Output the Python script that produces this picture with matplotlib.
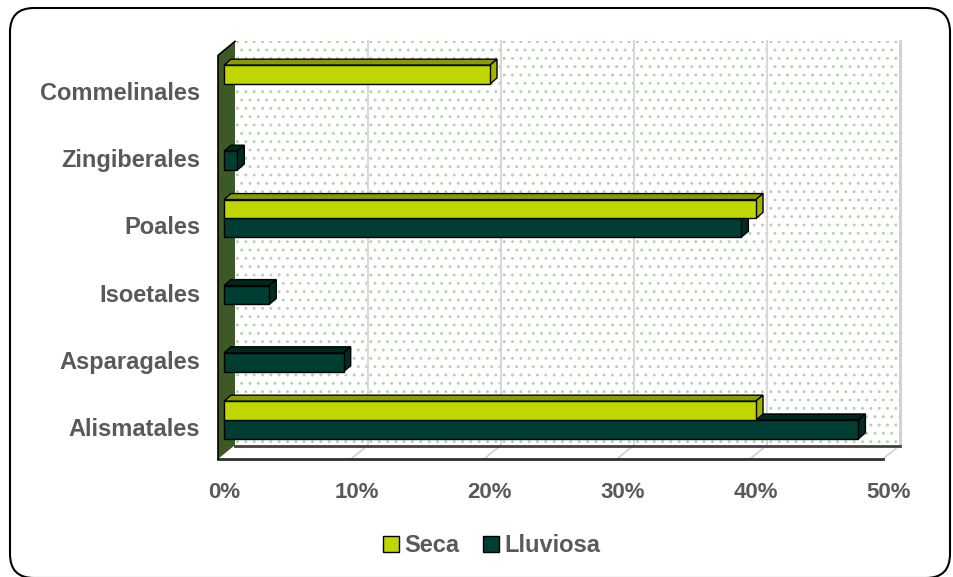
import numpy as np
import matplotlib
matplotlib.use('Agg')
import matplotlib.pyplot as plt
from matplotlib.patches import Polygon, Rectangle, FancyBboxPatch, Patch
from matplotlib.transforms import ScaledTranslation

plt.rcParams['font.family'] = ['Liberation Sans', 'DejaVu Sans']
plt.rcParams['hatch.linewidth'] = 0.9

# datos (porcentaje de especies por orden)
categorias = ['Alismatales', 'Asparagales', 'Isoetales', 'Poales', 'Zingiberales', 'Commelinales']
seca = [40, 0, 0, 40, 0, 20]
lluviosa = [47.7, 9, 3.4, 38.9, 1, 0]
ticks = [0, 10, 20, 30, 40, 50]
tick_labels = ['0%', '10%', '20%', '30%', '40%', '50%']

gris = '#595959'
c_seca = ('#bfd600', '#8c9c00', '#a3b500')        # frente, arriba, lado
c_lluv = ('#003d32', '#00261e', '#002c24')

fig = plt.figure(figsize=(9.54, 5.77), dpi=100)

# marco redondeado
bg = fig.add_axes([0, 0, 1, 1])
bg.set_xlim(0, 954)
bg.set_ylim(577, 0)
bg.axis('off')
bg.add_patch(FancyBboxPatch((10, 8), 940, 570, boxstyle='round,pad=0,rounding_size=24',
                            fc='white', ec='black', lw=1.5))

ymin, ymax = -0.506, 5.476
ax = fig.add_axes([224 / 954, (577 - 454) / 577, 665 / 954, 402 / 577])
ax.set_xlim(0, 50)
ax.set_ylim(ymin, ymax)
ax.patch.set_visible(False)
for s in ax.spines.values():
    s.set_visible(False)

PX = 665 / 50
PY = 402 / (ymax - ymin)


def d(px, py):
    # desplazamiento en pixeles -> unidades de datos
    return px / PX, py / PY


y0, ytop = ymin, 5.5
bx, by = d(11, 9)     # plano de fondo
fx, fy = d(-6, -5)    # plano frontal

# pared del fondo punteada
ax.add_patch(Rectangle((bx, y0 + by), 50, ytop - y0, fc='white', ec='#b4d2ae',
                       hatch='..', lw=0, zorder=0, clip_on=False))
for v in ticks[1:-1]:
    ax.plot([v + bx] * 2, [y0 + by, ytop + by], color='#d9d9d9', lw=1.5, zorder=1, clip_on=False)
ax.plot([50 + bx] * 2, [y0 + by, ytop + by], color='#d0d0d0', lw=2, zorder=1, clip_on=False)

# piso
ax.add_patch(Polygon([(fx, y0 + fy), (bx, y0 + by), (50 + bx, y0 + by), (50 + fx, y0 + fy)],
                     closed=True, fc='white', ec='none', zorder=1, clip_on=False))
for v in ticks[1:]:
    ax.plot([v + fx, v + bx], [y0 + fy, y0 + by], color='#d0d0d0', lw=1.2, zorder=1, clip_on=False)
ax.plot([bx, 50 + bx], [y0 + by - 0.02, y0 + by - 0.02], color='#404040', lw=2, zorder=1, clip_on=False)
ax.plot([fx, 50 + fx], [y0 + fy, y0 + fy], color='#303030', lw=2, zorder=2, clip_on=False)

# pared izquierda
ax.add_patch(Polygon([(fx, y0 + fy), (fx, ytop + fy), (bx, ytop + by), (bx, y0 + by)],
                     closed=True, fc='#3d5a26', ec='none', zorder=2, clip_on=False))
ax.plot([fx, fx, bx], [y0 + fy, ytop + fy, ytop + by], color='black', lw=1.2, zorder=2, clip_on=False)

# barras 3D
h = 0.28
dx, dy = d(7, 6)
y = np.arange(len(categorias))


def barras(vals, pos, colores, z):
    vals = np.asarray(vals, dtype=float)
    idx = np.nonzero(vals)[0]
    for i in idx:
        v, b = vals[i], pos[i] - h / 2
        t = b + h
        ax.add_patch(Polygon([(0, t), (v, t), (v + dx, t + dy), (dx, t + dy)], closed=True,
                             fc=colores[1], ec='black', lw=1, zorder=z, clip_on=False))
        ax.add_patch(Polygon([(v, b), (v + dx, b + dy), (v + dx, t + dy), (v, t)], closed=True,
                             fc=colores[2], ec='black', lw=1, zorder=z, clip_on=False))
    ax.barh(pos[idx], vals[idx], height=h, color=colores[0], edgecolor='black', lw=1,
            zorder=z + 0.5, clip_on=False)


barras(lluviosa, y - h / 2, c_lluv, 3)
barras(seca, y + h / 2, c_seca, 4)

# etiquetas
ax.set_xticks(ticks)
ax.set_xticklabels(tick_labels, fontsize=16, fontweight='bold', color=gris)
ax.set_yticks(y)
ax.set_yticklabels(categorias, fontsize=17, fontweight='bold', color=gris)
ax.tick_params(axis='x', length=0, pad=20)
ax.tick_params(axis='y', length=0, pad=17)
bajar = ScaledTranslation(0, -0.07, fig.dpi_scale_trans)
for lab in ax.get_yticklabels():
    lab.set_transform(lab.get_transform() + bajar)

fig.legend(handles=[Patch(fc=c_seca[0], ec='black'), Patch(fc=c_lluv[0], ec='black')],
           labels=['Seca', 'Lluviosa'], loc='center', bbox_to_anchor=(492 / 954, 1 - 546 / 577),
           ncol=2, frameon=False, handlelength=0.65, handleheight=0.65, handletextpad=0.25,
           columnspacing=1.0, prop={'weight': 'bold', 'size': 17}, labelcolor=gris)

fig.savefig('out.png', dpi=100)
